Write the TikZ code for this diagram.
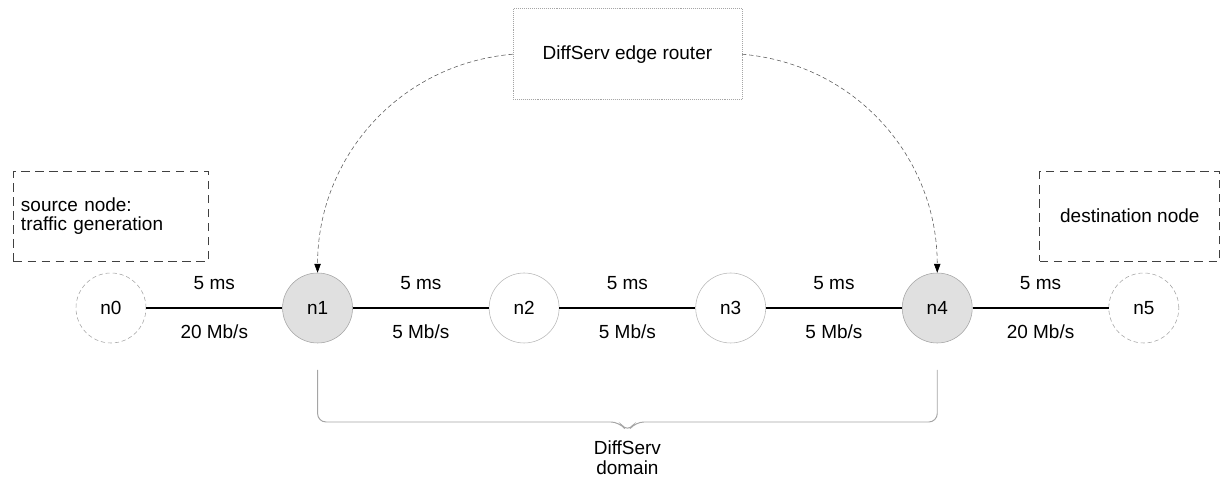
\documentclass[tikz,border=0pt]{standalone}
\usepackage{fontspec}
\setmainfont{Liberation Sans}
\usetikzlibrary{arrows.meta,positioning,calc}
\definecolor{rimgray}{RGB}{165,165,165}
\definecolor{routerfill}{RGB}{224,224,224}

\begin{document}
\begin{tikzpicture}[
  font=\fontsize{13.5}{14}\selectfont,
  node distance=3.4cm,
  host/.style={circle, draw=rimgray, densely dashed, thin, minimum size=1.75cm, inner sep=0pt},
  core/.style={circle, draw=rimgray!80, thin, minimum size=1.75cm, inner sep=0pt},
  edgert/.style={core, fill=routerfill, draw=rimgray},
  link/.style={black, line width=1.4pt},
  delay/.style={anchor=base, yshift=0.45cm},
  rate/.style={anchor=base, yshift=-0.76cm},
  note/.style={draw=black!75, dash pattern=on 6pt off 4pt, line width=0.8pt, minimum height=2.25cm},
  callout/.style={black!65, thin, dash pattern=on 3pt off 2pt, -{Triangle[length=2.2mm,width=1.6mm,color=black]}},
  bracket/.style={rimgray, line width=0.7pt, rounded corners=6pt}
]
\useasboundingbox (-2.775,-4.375) rectangle (27.725,7.7);

% chain of hosts and routers
\node[host] (n0) {n0};
\node[edgert, right=of n0] (n1) {n1};
\node[core, right=of n1] (n2) {n2};
\node[core, right=of n2] (n3) {n3};
\node[edgert, right=of n3] (n4) {n4};
\node[host, right=of n4] (n5) {n5};

\draw[link] (n0) -- node[delay] {5 ms} node[rate] {20 Mb/s} (n1);
\draw[link] (n1) -- node[delay] {5 ms} node[rate] {5 Mb/s} (n2);
\draw[link] (n2) -- node[delay] {5 ms} node[rate] {5 Mb/s} (n3);
\draw[link] (n3) -- node[delay] {5 ms} node[rate] {5 Mb/s} (n4);
\draw[link] (n4) -- node[delay] {5 ms} node[rate] {20 Mb/s} (n5);

% notes
\node[note, above=0.275cm of n0, minimum width=4.875cm, text width=4.5cm, align=left] (src) {source node:\\traffic generation};
\node[note, above=0.275cm of n5, xshift=-0.35cm, minimum width=4.5cm, align=center] (dst) {destination node};

\node[draw=rimgray, densely dotted, minimum width=5.725cm, minimum height=2.275cm,
  above=5.2cm of $(n2)!0.5!(n3)$] (router) {DiffServ edge router};

\draw[callout] (router.west) to[out=185, in=90] (n1.north);
\draw[callout] (router.east) to[out=-5, in=90] (n4.north);

% domain bracket
\coordinate (bl) at ($(n1)+(0,-1.55)$);
\coordinate (br) at ($(n4)+(0,-1.55)$);
\coordinate (bmid) at ($(bl)!0.5!(br)+(0,-1.3)$);
\coordinate (btip) at ($(bmid)+(0,-0.25)$);
\draw[bracket] (bl) -- (bl |- bmid) -- ($(bmid)+(-0.2,0)$) -- (btip) -- ($(bmid)+(0.2,0)$) -- (br |- bmid) -- (br);
\node[below=0.1cm of btip, align=center] (dom) {DiffServ\\domain};
\end{tikzpicture}
\end{document}
